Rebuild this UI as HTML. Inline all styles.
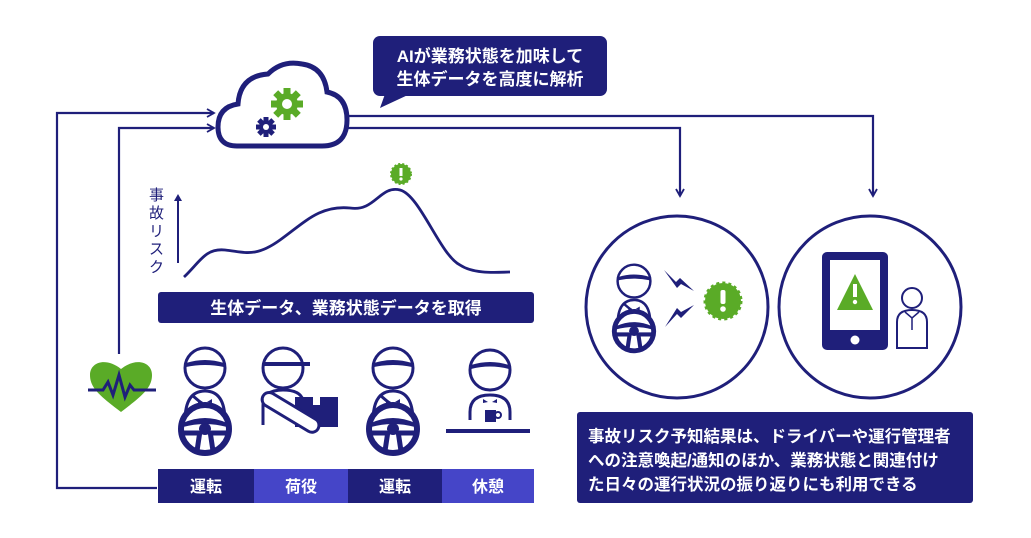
<!DOCTYPE html>
<html><head><meta charset="utf-8"><style>
html,body{margin:0;padding:0;background:#fff;width:1031px;height:538px;overflow:hidden}
svg{display:block}
text{font-family:"Liberation Sans","Noto Sans CJK JP",sans-serif;font-weight:bold}
</style></head><body>
<svg width="1031" height="538" viewBox="0 0 1031 538" xmlns="http://www.w3.org/2000/svg">
<defs>
<marker id="ah" markerWidth="10" markerHeight="10" refX="8" refY="5" orient="auto" markerUnits="userSpaceOnUse"><path d="M1,1 L8,5 L1,9" fill="none" stroke="#1f1f7a" stroke-width="1.8"/></marker>
<g id="driver">
<circle cx="0" cy="-45" r="20" fill="#fff" stroke="#1f1f7a" stroke-width="3"/>
<path d="M-19,-50 Q0,-56 19,-50 L19,-46 Q0,-50 -19,-46Z" fill="#1f1f7a"/>
<path d="M-20,8 Q-20,-22 0,-22 Q20,-22 20,8" fill="#fff" stroke="#1f1f7a" stroke-width="3"/>
<path d="M-12,-17 L20,10" stroke="#1f1f7a" stroke-width="3"/>
<path d="M-7,-14 l5,3 l-5,1z M7,-14 l-5,3 l5,1z" fill="#1f1f7a"/>
<circle cx="0" cy="16" r="24" fill="#fff" stroke="#1f1f7a" stroke-width="6"/>
<path d="M-22,10 Q0,0 22,10 L22,14 Q0,8 -22,14Z" fill="#1f1f7a"/>
<circle cx="0" cy="16" r="6" fill="#1f1f7a"/>
<path d="M-5,18 L-8,38 M5,18 L8,38 M-22,20 L-6,20 M22,20 L6,20" stroke="#1f1f7a" stroke-width="5"/>
</g>
</defs>
<g fill="none" stroke="#1f1f7a" stroke-width="2.2">
<path d="M157,488 H57 V113 H214" marker-end="url(#ah)"/>
<path d="M119,354 V128 H214" marker-end="url(#ah)"/>
<path d="M348,116 H873 V196" marker-end="url(#ah)"/>
<path d="M348,128 H680 V196" marker-end="url(#ah)"/>
</g>
<path d="M237,146 Q218,146 218,127 Q218,107 238,104 Q240,76 268,74 Q282,60 302,64 Q324,67 327,92 Q347,96 347,120 Q347,146 322,146 Z" fill="#fff" stroke="#1f1f7a" stroke-width="5"/>
<g transform="translate(287,104)"><circle r="11" fill="#5aab27"/><g fill="#5aab27"><rect x="-3.5" y="-16" width="7" height="32"/><rect x="-16" y="-3.5" width="32" height="7"/><rect x="-3.5" y="-16" width="7" height="32" transform="rotate(45)"/><rect x="-3.5" y="-16" width="7" height="32" transform="rotate(-45)"/></g><circle r="5" fill="#fff"/></g>
<g transform="translate(266,127)"><circle r="7" fill="#1f1f7a"/><g fill="#1f1f7a"><rect x="-2.5" y="-10" width="5" height="20"/><rect x="-10" y="-2.5" width="20" height="5"/><rect x="-2.5" y="-10" width="5" height="20" transform="rotate(45)"/><rect x="-2.5" y="-10" width="5" height="20" transform="rotate(-45)"/></g><circle r="3" fill="#fff"/></g>
<rect x="373" y="36" width="234" height="60" rx="7" fill="#1f1f7a"/>
<path d="M385,94 L380,108 L410,94Z" fill="#1f1f7a"/>
<text x="490" y="62" fill="#fff" font-size="17" text-anchor="middle">AIが業務状態を加味して</text>
<text x="490" y="85" fill="#fff" font-size="17" text-anchor="middle">生体データを高度に解析</text>
<g fill="#1f1f7a" font-size="15" style="font-weight:normal">
<text x="149" y="200" style="font-weight:normal">事</text>
<text x="149" y="218" style="font-weight:normal">故</text>
<text x="149" y="236" style="font-weight:normal">リ</text>
<text x="149" y="254" style="font-weight:normal">ス</text>
<text x="149" y="272" style="font-weight:normal">ク</text>
</g>
<path d="M178,263 V198" stroke="#1f1f7a" stroke-width="2"/><path d="M174,201 L178,194 L182,201Z" fill="#1f1f7a"/>
<path d="M184,277 C200,262 205,248 225,250 C245,252 255,258 280,240 C305,222 320,205 350,208 C375,212 380,185 400,190 C420,195 440,255 460,265 C475,275 500,272 510,272" fill="none" stroke="#1f1f7a" stroke-width="2.8"/>
<g transform="translate(401,174)"><circle r="10" fill="#5aab27" stroke="#5aab27" stroke-width="2" stroke-dasharray="2 2"/><rect x="-1.5" y="-6" width="3" height="8" fill="#fff"/><circle cy="5" r="1.6" fill="#fff"/></g>
<rect x="158" y="292" width="376" height="31" rx="3" fill="#1f1f7a"/>
<text x="346" y="314" fill="#fff" font-size="17" text-anchor="middle">生体データ、業務状態データを取得</text>
<path d="M121,412 C100,396 90,388 90,375 C90,362 106,357 121,369 C136,357 152,362 152,375 C152,388 142,396 121,412Z" fill="#5aab27"/>
<path d="M88,390 H103 L108,382 L113,395 L119,375 L125,397 L130,385 L134,390 H156" fill="none" stroke="#1f1f7a" stroke-width="3"/>
<use href="#driver" transform="translate(205,413)"/>
<use href="#driver" transform="translate(393,413)"/>
<g>
<circle cx="283" cy="368" r="20" fill="#fff" stroke="#1f1f7a" stroke-width="3"/>
<path d="M263,362 H310 V366 H263Z" fill="#1f1f7a"/>
<path d="M263,425 V405 Q263,390 283,390 Q300,390 303,400" fill="none" stroke="#1f1f7a" stroke-width="3"/>
<rect x="295" y="397" width="43" height="30" fill="#1f1f7a"/>
<rect x="313" y="397" width="7" height="8" fill="#fff"/>
<rect x="262" y="393" width="64" height="14" rx="7" transform="rotate(31 270 400)" fill="#fff" stroke="#1f1f7a" stroke-width="3"/>
</g>
<g>
<circle cx="490" cy="370" r="20" fill="#fff" stroke="#1f1f7a" stroke-width="3"/>
<path d="M471,365 Q490,359 509,365 L509,369 Q490,364 471,369Z" fill="#1f1f7a"/>
<path d="M470,420 V412 Q470,395 490,395 Q510,395 510,412 V420" fill="none" stroke="#1f1f7a" stroke-width="3"/>
<path d="M483,399 l5,3 l-5,1z M497,399 l-5,3 l5,1z" fill="#1f1f7a"/>
<rect x="485" y="410" width="11" height="12" fill="#1f1f7a"/><circle cx="498" cy="415" r="3" fill="none" stroke="#1f1f7a" stroke-width="2"/>
<rect x="446" y="429" width="84" height="4" fill="#1f1f7a"/>
</g>
<rect x="158" y="469" width="96" height="34" fill="#1f1f7a"/>
<rect x="254" y="469" width="94" height="34" fill="#4545c8"/>
<rect x="348" y="469" width="94" height="34" fill="#1f1f7a"/>
<rect x="442" y="469" width="92" height="34" fill="#4545c8"/>
<g fill="#fff" font-size="16" text-anchor="middle">
<text x="206" y="492">運転</text><text x="301" y="492">荷役</text><text x="395" y="492">運転</text><text x="488" y="492">休憩</text>
</g>
<circle cx="677" cy="307" r="91" fill="#fff" stroke="#1f1f7a" stroke-width="3"/>
<circle cx="870" cy="307" r="91" fill="#fff" stroke="#1f1f7a" stroke-width="3"/>
<g transform="translate(634,318) scale(0.82)"><use href="#driver"/></g>
<path d="M664,270 L676,282 L680,278 L694,291 L681,284 L677,288Z M665,327 L677,314 L681,318 L694,305 L681,312 L677,308Z" fill="#1f1f7a"/>
<g transform="translate(723,301)"><circle r="18" fill="#5aab27" stroke="#5aab27" stroke-width="3" stroke-dasharray="3 3"/><rect x="-2.5" y="-11" width="5" height="14" rx="2" fill="#fff"/><circle cy="8" r="2.8" fill="#fff"/></g>
<rect x="822" y="252" width="66" height="98" rx="5" fill="#1f1f7a"/>
<rect x="830" y="260" width="50" height="70" fill="#fff"/>
<circle cx="855" cy="340" r="4.5" fill="#fff"/>
<path d="M855,274 L873,310 H837Z" fill="#5aab27"/>
<rect x="853" y="284" width="4" height="13" fill="#fff"/><circle cx="855" cy="302" r="2.2" fill="#fff"/>
<circle cx="912" cy="298" r="10" fill="#fff" stroke="#1f1f7a" stroke-width="2"/>
<path d="M897,348 V322 Q897,310 912,310 Q927,310 927,322 V348Z" fill="#fff" stroke="#1f1f7a" stroke-width="2"/>
<path d="M905,312 L912,318 L919,312 M912,318 V330" fill="none" stroke="#1f1f7a" stroke-width="1.5"/>
<rect x="577" y="412" width="396" height="91" rx="3" fill="#1f1f7a"/>
<g fill="#fff" font-size="16.5">
<text x="588" y="442">事故リスク予知結果は、ドライバーや運行管理者</text>
<text x="588" y="466">への注意喚起/通知のほか、業務状態と関連付け</text>
<text x="588" y="490">た日々の運行状況の振り返りにも利用できる</text>
</g>
</svg>
</body></html>
